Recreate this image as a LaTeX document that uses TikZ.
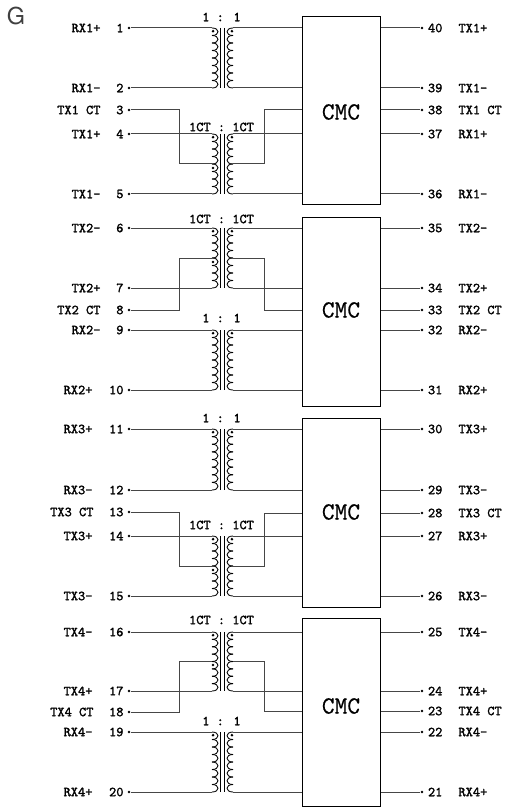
\documentclass[tikz,border=0pt]{standalone}
\usepackage{fontspec}
\setmainfont{TeX Gyre Heros}
\newfontfamily\pinfont[FakeBold=1.6]{Latin Modern Mono}
\newfontfamily\cmcfont[FakeBold=0.5]{Latin Modern Mono}
\usepackage{tikz}
\definecolor{mywire}{RGB}{70, 70, 70}
\tikzset{every picture/.style={line width=0.75pt}}
\tikzset{wire/.style={draw=mywire, line width=0.75pt},
  coilline/.style={draw=black, line width=0.65pt},
  pin/.style={circle, fill=black, inner sep=0pt, minimum size=2.2pt},
  pinlabel/.style={inner sep=0.75pt, font=\pinfont\fontsize{10.3}{11}\selectfont},
  cmcbox/.style={draw=black, fill=white, line width=0.75pt, minimum width=58.5pt, inner sep=0pt},
  cmclabel/.style={inner sep=0.75pt, font=\cmcfont\fontsize{18.5}{20}\selectfont}}
% one winding: name, x, top, bottom, bulge
\newcommand{\winding}[5]{%
  \coordinate (#1a) at (#2,#3);
  \coordinate (#1b) at (#2,#4);
  \foreach \k in {0,...,7}
    \draw [coilline] (#2,{#3+(#4-#3)*\k/8}) .. controls (#2+#5,{#3+(#4-#3)*\k/8}) and (#2+#5,{#3+(#4-#3)*(\k+1)/8}) .. (#2,{#3+(#4-#3)*(\k+1)/8});
  \node (#1d) [pin] at ({#2+#5*0.13},#3+3.2) {};
}
% transformer: name, top, bottom
\newcommand{\transformer}[3]{%
  \winding{#1l}{212}{#2}{#3}{8}
  \winding{#1r}{233}{#2}{#3}{-8}
  \coordinate (#1ca) at (220.7,#2);
  \coordinate (#1cb) at (220.7,#3);
  \coordinate (#1da) at (224.3,#2);
  \coordinate (#1db) at (224.3,#3);
  \draw [coilline] (#1ca) -- (#1cb);
  \draw [coilline] (#1da) -- (#1db);
}
% left pin: number, y, label edge, label
\newcommand{\leftpin}[4]{%
  \node (p#1) [pin] at (129,#2) {};
  \node (n#1) [pinlabel, anchor=east] at (125,#2) {#1};
  \node (s#1) [pinlabel, anchor=east] at (#3,#2) {#4};
}
% right pin: number, y, label
\newcommand{\rightpin}[3]{%
  \node (p#1) [pin] at (422,#2) {};
  \node (n#1) [pinlabel, anchor=west] at (426.5,#2) {#1};
  \node (s#1) [pinlabel, anchor=west] at (457,#2) {#3};
}

\begin{document}
\begin{tikzpicture}[x=0.75pt,y=0.75pt,yscale=-1,xscale=1]
\useasboundingbox (0,0) rectangle (515,809);

% Text Node
\node (fig) [inner sep=0pt, text=black!75, font=\fontsize{17.5}{18}\selectfont] at (16,15.5) {G};

%Shape: Rectangle
\node (cmca) [cmcbox, minimum height=141pt] at (341,111) {};
\node (cmcb) [cmcbox, minimum height=141pt] at (341,312) {};
\node (cmcc) [cmcbox, minimum height=141.75pt] at (341,512.5) {};
\node (cmcd) [cmcbox, minimum height=141pt] at (341,712) {};

% Text Node
\node (cmcta) [cmclabel] at (341,112) {CMC};
\node (cmctb) [cmclabel] at (341,310) {CMC};
\node (cmctc) [cmclabel] at (341,512) {CMC};
\node (cmctd) [cmclabel] at (341,706) {CMC};

%Transformers
\transformer{ta}{28}{88}
\transformer{tb}{134}{194}
\transformer{tc}{228}{288}
\transformer{td}{330}{390}
\transformer{te}{429}{490}
\transformer{tf}{536}{596}
\transformer{tg}{632}{691}
\transformer{th}{732}{792}

% Text Node
\node (ra) [pinlabel] at (221.5,17) {1 : 1};
\node (rb) [pinlabel] at (221.5,127) {1CT : 1CT};
\node (rc) [pinlabel] at (221.5,219) {1CT : 1CT};
\node (rd) [pinlabel] at (221.5,318) {1 : 1};
\node (re) [pinlabel] at (221.5,418) {1 : 1};
\node (rf) [pinlabel] at (221.5,525) {1CT : 1CT};
\node (rg) [pinlabel] at (221.5,620) {1CT : 1CT};
\node (rh) [pinlabel] at (221.5,721) {1 : 1};

%Left pins
\leftpin{1}{28}{102}{RX1+}
\leftpin{2}{88}{102}{RX1-}
\leftpin{3}{110}{102}{TX1 CT}
\leftpin{4}{134}{102}{TX1+}
\leftpin{5}{194}{102}{TX1-}
\leftpin{6}{228}{102}{TX2-}
\leftpin{7}{288}{102}{TX2+}
\leftpin{8}{310}{102}{TX2 CT}
\leftpin{9}{330}{102}{RX2-}
\leftpin{10}{390}{94}{RX2+}
\leftpin{11}{429}{94}{RX3+}
\leftpin{12}{490}{94}{RX3-}
\leftpin{13}{512}{95}{TX3 CT}
\leftpin{14}{536}{94}{TX3+}
\leftpin{15}{596}{94}{TX3-}
\leftpin{16}{632}{94}{TX4-}
\leftpin{17}{691}{94}{TX4+}
\leftpin{18}{712}{95}{TX4 CT}
\leftpin{19}{732}{94}{RX4-}
\leftpin{20}{792}{94}{RX4+}

%Right pins
\rightpin{40}{28}{TX1+}
\rightpin{39}{88}{TX1-}
\rightpin{38}{110}{TX1 CT}
\rightpin{37}{134}{RX1+}
\rightpin{36}{194}{RX1-}
\rightpin{35}{228}{TX2-}
\rightpin{34}{288}{TX2+}
\rightpin{33}{310}{TX2 CT}
\rightpin{32}{330}{RX2-}
\rightpin{31}{390}{RX2+}
\rightpin{30}{429}{TX3+}
\rightpin{29}{490}{TX3-}
\rightpin{28}{513}{TX3 CT}
\rightpin{27}{536}{RX3+}
\rightpin{26}{596}{RX3-}
\rightpin{25}{632}{TX4-}
\rightpin{24}{691}{TX4+}
\rightpin{23}{711}{TX4 CT}
\rightpin{22}{732}{RX4-}
\rightpin{21}{792}{RX4+}

%Straight Lines
\draw [wire] (p1) -- (tala);
\draw [wire] (p2) -- (talb);
\draw [wire] (p4) -- (tbla);
\draw [wire] (p5) -- (tblb);
\draw [wire] (p6) -- (tcla);
\draw [wire] (p7) -- (tclb);
\draw [wire] (p9) -- (tdla);
\draw [wire] (p10) -- (tdlb);
\draw [wire] (p11) -- (tela);
\draw [wire] (p12) -- (telb);
\draw [wire] (p14) -- (tfla);
\draw [wire] (p15) -- (tflb);
\draw [wire] (p16) -- (tgla);
\draw [wire] (p17) -- (tglb);
\draw [wire] (p19) -- (thla);
\draw [wire] (p20) -- (thlb);
%Straight Lines
\draw [wire] (tara) -- (tara -| cmca.west);
\draw [wire] (tarb) -- (tarb -| cmca.west);
\draw [wire] (tbra) -- (tbra -| cmca.west);
\draw [wire] (tbrb) -- (tbrb -| cmca.west);
\draw [wire] (tcra) -- (tcra -| cmcb.west);
\draw [wire] (tcrb) -- (tcrb -| cmcb.west);
\draw [wire] (tdra) -- (tdra -| cmcb.west);
\draw [wire] (tdrb) -- (tdrb -| cmcb.west);
\draw [wire] (tera) -- (tera -| cmcc.west);
\draw [wire] (terb) -- (terb -| cmcc.west);
\draw [wire] (tfra) -- (tfra -| cmcc.west);
\draw [wire] (tfrb) -- (tfrb -| cmcc.west);
\draw [wire] (tgra) -- (tgra -| cmcd.west);
\draw [wire] (tgrb) -- (tgrb -| cmcd.west);
\draw [wire] (thra) -- (thra -| cmcd.west);
\draw [wire] (thrb) -- (thrb -| cmcd.west);
%Center taps
\coordinate (cla) at (179,164);
\coordinate (cra) at (264,164);
\coordinate (clb) at (179,258);
\coordinate (crb) at (264,258);
\coordinate (clc) at (179,566);
\coordinate (crc) at (264,566);
\coordinate (cld) at (179,661);
\coordinate (crd) at (264,661);
\node (cda) [pin] at (213,168) {};
\node (cdb) [pin] at (213,262) {};
\node (cdc) [pin] at (213,570) {};
\node (cdd) [pin] at (213,665) {};
\draw [wire] (p3) -| (cla) -- (cla -| tbla);
\draw [wire] (p8) -| (clb) -- (clb -| tcla);
\draw [wire] (p13) -| (clc) -- (clc -| tfla);
\draw [wire] (p18) -| (cld) -- (cld -| tgla);
\draw [wire] (cra -| tbra) -- (cra) |- (cmca.west |- p38);
\draw [wire] (crb -| tcra) -- (crb) |- (cmcb.west |- p33);
\draw [wire] (crc -| tfra) -- (crc) |- (cmcc.west |- p28);
\draw [wire] (crd -| tgra) -- (crd) |- (cmcd.west |- p23);
%Straight Lines
\draw [wire] (cmca.east |- p40) -- (p40);
\draw [wire] (cmca.east |- p39) -- (p39);
\draw [wire] (cmca.east |- p38) -- (p38);
\draw [wire] (cmca.east |- p37) -- (p37);
\draw [wire] (cmca.east |- p36) -- (p36);
\draw [wire] (cmcb.east |- p35) -- (p35);
\draw [wire] (cmcb.east |- p34) -- (p34);
\draw [wire] (cmcb.east |- p33) -- (p33);
\draw [wire] (cmcb.east |- p32) -- (p32);
\draw [wire] (cmcb.east |- p31) -- (p31);
\draw [wire] (cmcc.east |- p30) -- (p30);
\draw [wire] (cmcc.east |- p29) -- (p29);
\draw [wire] (cmcc.east |- p28) -- (p28);
\draw [wire] (cmcc.east |- p27) -- (p27);
\draw [wire] (cmcc.east |- p26) -- (p26);
\draw [wire] (cmcd.east |- p25) -- (p25);
\draw [wire] (cmcd.east |- p24) -- (p24);
\draw [wire] (cmcd.east |- p23) -- (p23);
\draw [wire] (cmcd.east |- p22) -- (p22);
\draw [wire] (cmcd.east |- p21) -- (p21);

\end{tikzpicture}
\end{document}
